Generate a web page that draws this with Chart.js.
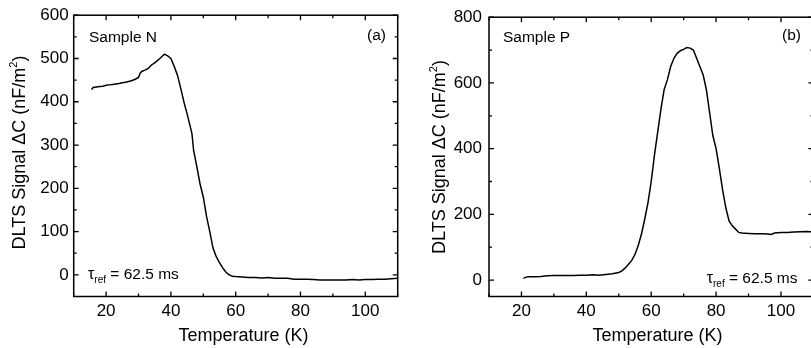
<!DOCTYPE html>
<html><head><meta charset="utf-8">
<script src="https://cdn.jsdelivr.net/npm/chart.js@4/dist/chart.umd.min.js"></script>
<style>
html,body{margin:0;padding:0;background:#fff;overflow:hidden;width:811px;height:348px;}
#wrap{position:relative;width:811px;height:348px;overflow:hidden;background:#fff;}
#cN{position:absolute;left:0;top:0;width:405px;height:348px;}
#cP{position:absolute;left:410px;top:0;width:410px;height:348px;}
</style></head><body>
<div id="wrap"><canvas id="cN" width="405" height="348"></canvas><canvas id="cP" width="410" height="348"></canvas></div>
<script>
// ---- Data ----
const tempN = [15.5,16,17,18,19,20,21,22,23,24,25,26,27,28,29,30,30.5,31,32,33,34,35,36,37,38,39,40,41,42,43,44,45,46,46.5,47,48,49,50,51,52,53,54,55,56,57,58,59,60,62,64,66,68,70,72,74,76,78,80,82,84,86,88,90,92,94,96,98,100,102,104,106,108,110];
const signalN = [428,433,434,435,436,438,439,440,441,442,444,445,447,449,452,456,466,470,473,477,485,490,496,503,510,506,500,482,462,432,400,372,342,326,288,250,210,180,135,100,62,42,28,16,6,0,-3,-4,-5,-6,-6,-7,-6,-8,-8,-8,-10,-10,-10,-11,-12,-12,-12,-12,-12,-11,-12,-11,-11,-10,-10,-9,-8];

const tempP = [20.6,21.5,22,24,26,28,30,32,34,36,38,40,42,44,46,48,50,51,52,53,54,55,56,57,58,59,60,61,62,63,64,65,66,67,68,69,70,71,72,73,74,75,76,77,78,79,80,81,82,83,84,85,86,87,88,90,92,94,96,97,98,100,102,104,106,108,110];
const signalP = [5,9,10,10,11,13,14,14,14,14,15,15,16,15,17,19,23,28,37,48,60,78,105,140,185,235,300,380,450,520,580,610,650,675,690,698,702,708,706,700,675,650,625,580,510,440,400,340,275,220,180,165,155,145,143,142,141,141,140,139,143,145,145,146,147,148,146];

const xTicks = [20,40,60,80,100];
const xMinor = [10,30,50,70,90,110];
const yTicksN = [0,100,200,300,400,500,600];
const yMinorN = [50,150,250,350,450,550];
const yTicksP = [0,200,400,600,800];
const yMinorP = [100,300,500,700];

const FONT = '"Liberation Sans", Arial, Helvetica, sans-serif';

const deco = {
  id:'deco',
  afterDraw(chart, args, o){
    const {ctx, chartArea:a, scales:{x,y}} = chart;
    ctx.save();
    ctx.strokeStyle='#000';
    ctx.lineWidth=1.5;
    ctx.strokeRect(a.left,a.top,a.right-a.left,a.bottom-a.top);
    ctx.lineWidth=1.3;
    ctx.beginPath();
    const tx=(v,len)=>{const p=x.getPixelForValue(v); ctx.moveTo(p,a.bottom); ctx.lineTo(p,a.bottom-len); ctx.moveTo(p,a.top); ctx.lineTo(p,a.top+len);};
    const ty=(v,len)=>{const p=y.getPixelForValue(v); ctx.moveTo(a.left,p); ctx.lineTo(a.left+len,p); ctx.moveTo(a.right,p); ctx.lineTo(a.right-len,p);};
    o.xMaj.forEach(v=>tx(v,5)); o.xMin.forEach(v=>tx(v,3));
    o.yMaj.forEach(v=>ty(v,5)); o.yMin.forEach(v=>ty(v,3));
    ctx.stroke();

    ctx.fillStyle='#000';
    ctx.textBaseline='alphabetic';
    ctx.textAlign='left';
    ctx.font='15.5px '+FONT;
    ctx.fillText(o.sample, o.sampleX, o.sampleY);
    ctx.fillText(o.letter, o.letterX, o.letterY);
    let tx0 = o.tauX;
    ctx.font='16px '+FONT;
    ctx.fillText('\u03C4', tx0, o.tauY);
    tx0 += ctx.measureText('\u03C4').width;
    ctx.font='10px '+FONT;
    ctx.fillText('ref', tx0, o.tauY+4);
    tx0 += ctx.measureText('ref').width;
    ctx.font='15.5px '+FONT;
    ctx.fillText(' = 62.5 ms', tx0, o.tauY);

    ctx.font='18px '+FONT;
    ctx.textAlign='center';
    ctx.fillText('Temperature (K)', o.xtX, o.xtY);

    ctx.translate(o.ytX, o.ytY);
    ctx.rotate(-Math.PI/2);
    ctx.textAlign='left';
    const p1='DLTS Signal \u0394C (nF/m', p2='2', p3=')';
    ctx.font='18px '+FONT; const w1=ctx.measureText(p1).width, w3=ctx.measureText(p3).width;
    ctx.font='11px '+FONT; const w2=ctx.measureText(p2).width;
    let sx=-(w1+w2+w3)/2;
    ctx.font='18px '+FONT; ctx.fillText(p1,sx,0); sx+=w1;
    ctx.font='11px '+FONT; ctx.fillText(p2,sx,-8); sx+=w2;
    ctx.font='18px '+FONT; ctx.fillText(p3,sx,0);
    ctx.restore();
  }
};

function makeChart(id, temps, sig, c){
  const pts = temps.map((t,i)=>({x:t,y:sig[i]}));
  return new Chart(document.getElementById(id), {
    type:'line',
    data:{datasets:[{data:pts,borderColor:'#000',borderWidth:1.5,pointRadius:0,tension:0,fill:false}]},
    options:{
      responsive:false, animation:false,
      layout:{padding:{left:0,top:13.3,right:c.padRight,bottom:0}},
      plugins:{legend:{display:false},tooltip:{enabled:false},deco:c.deco},
      scales:{
        x:{type:'linear',min:10,max:110,
          afterBuildTicks:s=>{s.ticks=xTicks.map(v=>({value:v}));},
          afterFit:s=>{s.height=51.5;},
          grid:{display:false,drawTicks:false},border:{display:false},
          ticks:{font:{family:FONT,size:17},color:'#000',padding:5,maxRotation:0,autoSkip:false}},
        y:{type:'linear',min:-50,max:c.yMax,
          afterBuildTicks:s=>{s.ticks=c.yTicks.map(v=>({value:v}));},
          afterFit:s=>{s.width=c.yW;},
          grid:{display:false,drawTicks:false},border:{display:false},
          ticks:{font:{family:FONT,size:17},color:'#000',padding:c.yPad,autoSkip:false}}
      }
    },
    plugins:[deco]
  });
}

makeChart('cN', tempN, signalN, {
  padRight:7.3, yW:73.7, yMax:600, yTicks:yTicksN, yPad:5,
  deco:{xMaj:xTicks,xMin:xMinor,yMaj:yTicksN,yMin:yMinorN,
    sample:'Sample N',sampleX:89,sampleY:42,letter:'(a)',letterX:367,letterY:40,
    tauX:88,tauY:278.5,xtX:243.5,xtY:341,ytX:25,ytY:152.5}
});
makeChart('cP', tempP, signalP, {
  padRight:6.6, yW:79, yMax:800, yTicks:yTicksP, yPad:7,
  deco:{xMaj:xTicks,xMin:xMinor,yMaj:yTicksP,yMin:yMinorP,
    sample:'Sample P',sampleX:93,sampleY:42,letter:'(b)',letterX:372,letterY:40,
    tauX:296.7,tauY:283,xtX:247.5,xtY:341,ytX:35,ytY:157}
});
</script>
</body></html>
